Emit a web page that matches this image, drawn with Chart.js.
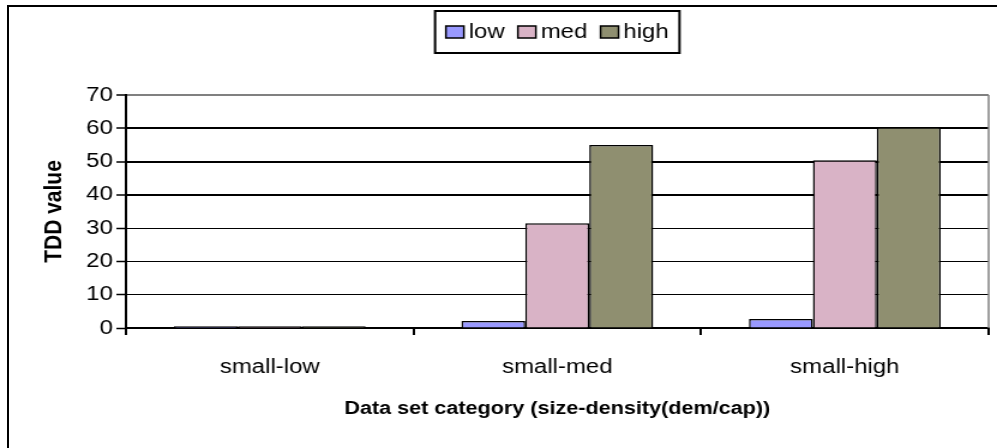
<!DOCTYPE html>
<html>
<head>
<meta charset="utf-8">
<script src="https://cdn.jsdelivr.net/npm/chart.js@4/dist/chart.umd.min.js"></script>
<style>
    body { margin: 0; background: #fff; }
    #wrap { position: relative; width: 997px; height: 448px; overflow: hidden; }
    #frame {
        position: absolute; left: 7px; top: 5px; width: 1100px; height: 600px;
        border-left: 2px solid #000; border-top: 2px solid #000; pointer-events: none;
    }
</style>
</head>
<body>
<div id="wrap">
    <!-- the reference is stretched sideways, so the canvas is drawn narrow and widened -->
    <canvas id="chart" width="831" height="448" style="display:block;width:997px;height:448px"></canvas>
    <div id="frame"></div>
</div>
<script>
const categories = ['small-low', 'small-med', 'small-high'];
const seriesNames = ['low', 'med', 'high'];
const lowValues = [0.5, 2.1, 2.7];
const medValues = [0.5, 31.5, 50.4];
const highValues = [0.5, 55.0, 60.3];
const seriesColors = ['#9999ff', '#d9b3c6', '#8f8f70'];
const yTicks = [0, 10, 20, 30, 40, 50, 60, 70];

const fontFamily = "'Liberation Sans', Arial, sans-serif";

// legend in a box centred over the plot, and the grey plot border on the right
const boxLegend = {
    id: 'boxLegend',
    afterDraw(chart) {
        const ctx = chart.ctx;
        const area = chart.chartArea;
        ctx.save();

        ctx.strokeStyle = '#808080';
        ctx.lineWidth = 1.5;
        ctx.beginPath();
        ctx.moveTo(area.right, area.top);
        ctx.lineTo(area.right, area.bottom);
        ctx.stroke();

        ctx.font = '20px ' + fontFamily;
        const sw = 15, sh = 12, gap = 4, spacing = 11, pad = 9;
        const items = chart.data.datasets.map(ds => ({
            label: ds.label,
            color: ds.backgroundColor,
            w: sw + gap + ctx.measureText(ds.label).width
        }));
        const total = items.reduce((s, it) => s + it.w, 0) + spacing * (items.length - 1) + pad * 2;
        const boxTop = 11, boxH = 42;
        let x = (area.left + area.right) / 2 - total / 2;
        ctx.strokeStyle = '#000';
        ctx.lineWidth = 2;
        ctx.strokeRect(x, boxTop, total, boxH);

        const midY = boxTop + boxH / 2;
        x += pad;
        ctx.textBaseline = 'middle';
        items.forEach(it => {
            ctx.fillStyle = it.color;
            ctx.fillRect(x, midY - sh / 2, sw, sh);
            ctx.lineWidth = 1.5;
            ctx.strokeStyle = '#000';
            ctx.strokeRect(x, midY - sh / 2, sw, sh);
            ctx.fillStyle = '#000';
            ctx.fillText(it.label, x + sw + gap, midY);
            x += it.w + spacing;
        });
        ctx.restore();
    }
};

new Chart(document.getElementById('chart'), {
    type: 'bar',
    data: {
        labels: categories,
        datasets: [lowValues, medValues, highValues].map((vals, i) => ({
            label: seriesNames[i],
            data: vals,
            backgroundColor: seriesColors[i],
            borderColor: '#000',
            borderWidth: 1.5,
            categoryPercentage: 0.667,
            barPercentage: 1.0
        }))
    },
    options: {
        responsive: false,
        animation: false,
        layout: {
            padding: { left: 0, right: 7, top: 95, bottom: 0 }
        },
        plugins: {
            legend: { display: false },
            tooltip: { enabled: false }
        },
        scales: {
            x: {
                afterFit: scale => { scale.height = 120; },
                border: { color: '#000', width: 2 },
                grid: {
                    drawOnChartArea: false,
                    drawTicks: true,
                    tickLength: 7,
                    color: '#000',
                    lineWidth: 2
                },
                ticks: {
                    color: '#000',
                    padding: 20,
                    font: { family: fontFamily, size: 20 }
                },
                title: {
                    display: true,
                    text: 'Data set category (size-density(dem/cap))',
                    color: '#000',
                    font: { family: fontFamily, size: 18, weight: 'bold' },
                    padding: { top: 0, bottom: 28 }
                }
            },
            y: {
                min: 0,
                max: 70,
                afterFit: scale => { scale.width = 105; },
                afterBuildTicks: scale => {
                    scale.ticks = yTicks.map(v => ({ value: v }));
                },
                border: { color: '#000', width: 2 },
                grid: {
                    color: c => (c.tick && c.tick.value === 70) ? '#808080' : '#000',
                    lineWidth: c => (c.tick && c.tick.value >= 40) ? 2 : 1,
                    tickColor: '#000',
                    tickWidth: 1.5,
                    tickLength: 8
                },
                ticks: {
                    color: '#000',
                    padding: 3,
                    font: { family: fontFamily, size: 20 }
                },
                title: {
                    display: true,
                    text: 'TDD value',
                    color: '#000',
                    font: { family: fontFamily, size: 21, weight: 'bold' },
                    padding: { top: 33, bottom: 0 }
                }
            }
        }
    },
    plugins: [boxLegend]
});
</script>
</body>
</html>
